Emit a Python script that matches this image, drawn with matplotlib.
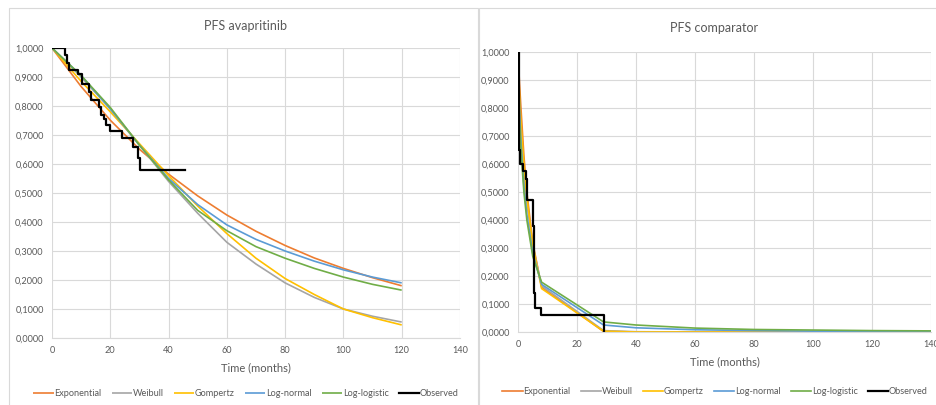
import numpy as np
import matplotlib.pyplot as plt
from matplotlib.patches import Rectangle
from matplotlib.ticker import FuncFormatter, MultipleLocator

plt.rcParams['font.family'] = ['Lato', 'DejaVu Sans']

# --- PFS avapritinib: fitted curves (every 10 months)
t_ava = [0, 10, 20, 30, 40, 50, 60, 70, 80, 90, 100, 110, 120]
ava_exponential = [1.0, 0.867, 0.751, 0.651, 0.565, 0.490, 0.424, 0.368, 0.319, 0.276, 0.240, 0.208, 0.180]
ava_weibull = [1.0, 0.900, 0.790, 0.665, 0.540, 0.430, 0.330, 0.255, 0.190, 0.140, 0.100, 0.075, 0.055]
ava_gompertz = [1.0, 0.885, 0.780, 0.670, 0.560, 0.455, 0.360, 0.275, 0.205, 0.150, 0.100, 0.070, 0.045]
ava_lognormal = [1.0, 0.905, 0.790, 0.665, 0.550, 0.460, 0.390, 0.340, 0.300, 0.265, 0.235, 0.210, 0.190]
ava_loglogistic = [1.0, 0.905, 0.795, 0.665, 0.545, 0.440, 0.370, 0.315, 0.275, 0.240, 0.210, 0.185, 0.165]

# observed Kaplan-Meier steps
km_ava_t = [0, 4.3, 5.0, 5.7, 8.8, 10.3, 12.6, 13.4, 16.0, 16.8, 18.0, 18.6, 19.8, 24.0, 27.8, 29.4, 30.3, 45.7]
km_ava_s = [1.0, 0.975, 0.95, 0.925, 0.912, 0.875, 0.85, 0.82, 0.795, 0.77, 0.755, 0.735, 0.715, 0.69, 0.66, 0.62, 0.58, 0.58]

# --- PFS comparator
t_cmp = [0, 0.5, 1, 2, 3, 5, 8, 29, 40, 60, 80, 100, 120, 140]
cmp_exponential = [1.0, 0.89, 0.80, 0.63, 0.50, 0.32, 0.160, 0.002, 0.0, 0.0, 0.0, 0.0, 0.0, 0.0]
cmp_weibull = [1.0, 0.80, 0.70, 0.56, 0.46, 0.31, 0.165, 0.005, 0.001, 0.0, 0.0, 0.0, 0.0, 0.0]
cmp_gompertz = [1.0, 0.85, 0.75, 0.60, 0.48, 0.31, 0.155, 0.003, 0.0, 0.0, 0.0, 0.0, 0.0, 0.0]
cmp_lognormal = [1.0, 0.80, 0.68, 0.52, 0.42, 0.28, 0.170, 0.025, 0.015, 0.008, 0.005, 0.003, 0.002, 0.002]
cmp_loglogistic = [1.0, 0.75, 0.65, 0.50, 0.40, 0.27, 0.178, 0.036, 0.025, 0.014, 0.009, 0.007, 0.005, 0.004]

km_cmp_t = [0, 0.2, 0.45, 0.8, 1.6, 2.7, 3.0, 4.7, 5.0, 5.4, 5.6, 7.7, 29.0, 29.0]
km_cmp_s = [1.0, 0.875, 0.65, 0.60, 0.575, 0.545, 0.47, 0.47, 0.38, 0.14, 0.085, 0.06, 0.06, 0.0]

labels = ['Exponential', 'Weibull', 'Gompertz', 'Log-normal', 'Log-logistic']
colors = ['#ED7D31', '#A5A5A5', '#FFC000', '#5B9BD5', '#70AD47']

W, H = 936, 405
fig = plt.figure(figsize=(W / 100, H / 100), dpi=100)

# chart frames
for x0, x1 in [(9, 478), (479, 945)]:
    fig.patches.append(Rectangle((x0 / W, -0.05), (x1 - x0) / W, 1.05 - 8 / H,
                                 transform=fig.transFigure, fill=False,
                                 edgecolor='#D9D9D9', lw=0.8))


def fx(px):
    return px / W


def fy(py):
    return 1 - py / H


comma_fmt = FuncFormatter(lambda v, p: f"{v:.4f}".replace('.', ','))
txt = '#595959'


def style(ax, xmax):
    ax.set_xlim(0, xmax)
    ax.set_ylim(0, 1)
    ax.xaxis.set_major_locator(MultipleLocator(20))
    ax.yaxis.set_major_locator(MultipleLocator(0.1))
    ax.yaxis.set_major_formatter(comma_fmt)
    ax.grid(True, color='#D9D9D9', lw=0.8)
    ax.set_axisbelow(True)
    for s in ['top', 'right', 'left']:
        ax.spines[s].set_visible(False)
    ax.spines['bottom'].set_color('#D9D9D9')
    ax.tick_params(length=0, labelsize=6.6, colors=txt, pad=6)
    for lab in ax.get_xticklabels() + ax.get_yticklabels():
        lab.set_clip_on(False)


# left chart
ax1 = fig.add_axes([fx(52), fy(338), fx(460) - fx(52), fy(48) - fy(338)])
series1 = [ava_exponential, ava_weibull, ava_gompertz, ava_lognormal, ava_loglogistic]
for ys, c, lab in zip(series1, colors, labels):
    ax1.plot(t_ava, ys, color=c, lw=1.2, label=lab, solid_capstyle='butt')
ax1.plot(km_ava_t, km_ava_s, color='black', lw=1.6, drawstyle='steps-post', label='Observed')
style(ax1, 140)
ax1.set_xlabel('Time (months)', fontsize=8, color=txt, labelpad=5)
fig.text(fx(246), fy(26), 'PFS avapritinib', ha='center', va='center', fontsize=9, color=txt)

# right chart
ax2 = fig.add_axes([fx(518), fy(332), fx(931) - fx(518), fy(52) - fy(332)])
series2 = [cmp_exponential, cmp_weibull, cmp_gompertz, cmp_lognormal, cmp_loglogistic]
for ys, c, lab in zip(series2, colors, labels):
    ax2.plot(t_cmp, ys, color=c, lw=1.2, label=lab)
ax2.plot(km_cmp_t, km_cmp_s, color='black', lw=1.6, drawstyle='steps-post', label='Observed')
style(ax2, 140)
ax2.set_xlabel('Time (months)', fontsize=8, color=txt, labelpad=5)
fig.text(fx(714), fy(28), 'PFS comparator', ha='center', va='center', fontsize=9, color=txt)

for ax, cx, cy in [(ax1, 246, 394), (ax2, 715, 392)]:
    h, l = ax.get_legend_handles_labels()
    leg = fig.legend(h, l, loc='center', bbox_to_anchor=(fx(cx), fy(cy)), ncol=6,
                     frameon=False, fontsize=6.6, handlelength=2.2, handletextpad=0.1,
                     columnspacing=1.1, labelcolor=txt)

fig.savefig('out.png', dpi=100)
